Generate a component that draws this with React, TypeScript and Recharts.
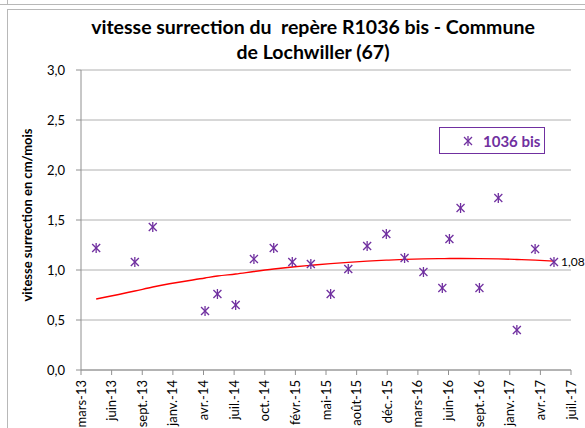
import React from 'react';
import { ComposedChart, Scatter, Line, XAxis, YAxis, CartesianGrid } from 'recharts';

// relevés (date de mesure) et vitesse de surrection en cm/mois
const dates = [
  '2013-05-04', '2013-09-06', '2013-11-03', '2014-04-21', '2014-05-31', '2014-07-29',
  '2014-09-26', '2014-11-29', '2015-01-28', '2015-03-29', '2015-06-01', '2015-07-28',
  '2015-09-27', '2015-11-28', '2016-01-26', '2016-03-27', '2016-05-27', '2016-06-19',
  '2016-07-25', '2016-09-24', '2016-11-24', '2017-01-23', '2017-03-23', '2017-05-23',
];
const values = [
  1.22, 1.08, 1.43, 0.59, 0.76, 0.65,
  1.11, 1.22, 1.08, 1.06, 0.76, 1.01,
  1.24, 1.36, 1.12, 0.98, 0.82, 1.31,
  1.62, 0.82, 1.72, 0.40, 1.21, 1.08,
];
// courbe de tendance
const trend = [
  0.71, 0.79, 0.83, 0.92, 0.94, 0.96,
  0.985, 1.01, 1.03, 1.047, 1.064, 1.077,
  1.089, 1.098, 1.106, 1.111, 1.114, 1.115,
  1.115, 1.114, 1.111, 1.105, 1.098, 1.088,
];
const tickLabels = [
  'mars-13', 'juin-13', 'sept.-13', 'janv.-14', 'avr.-14', 'juil.-14', 'oct.-14', 'févr.-15',
  'mai-15', 'août-15', 'déc.-15', 'mars-16', 'juin-16', 'sept.-16', 'janv.-17', 'avr.-17', 'juil.-17',
];
const yTicks = [0, 0.5, 1, 1.5, 2, 2.5, 3];
const axisStart = '2013-03-16';
const stepDays = 99;

const PURPLE = '#7030a0';
const FONT = 'Lato, "Open Sans", sans-serif';

const dayOf = (d: string) => Math.round((Date.parse(d) - Date.parse(axisStart)) / 86400000);
const data = dates.map((d, i) => ({ day: dayOf(d), value: values[i], trend: trend[i] }));
const xTicks = tickLabels.map((_, i) => i * stepDays);
const lastDay = data[data.length - 1].day;

const fmt = (v: number) => v.toFixed(1).replace('.', ',');

function Star({ cx, cy }: { cx: number; cy: number }) {
  return (
    <g stroke={PURPLE} strokeWidth={1.3}>
      <line x1={cx - 4} y1={cy - 4} x2={cx + 4} y2={cy + 4} />
      <line x1={cx - 4} y1={cy + 4} x2={cx + 4} y2={cy - 4} />
      <line x1={cx} y1={cy - 5} x2={cx} y2={cy + 5} />
    </g>
  );
}

function Marker(props: any) {
  const { cx, cy, payload } = props;
  return (
    <g>
      <Star cx={cx} cy={cy} />
      {payload.day === lastDay && (
        <text x={cx + 7} y={cy} dy="0.35em" fontSize={12} fontFamily={FONT} fill="#000">
          {payload.value.toFixed(2).replace('.', ',')}
        </text>
      )}
    </g>
  );
}

function XTick(props: any) {
  const { x, y, payload } = props;
  return (
    <text
      x={x}
      y={y}
      transform={`rotate(-90 ${x} ${y})`}
      textAnchor="end"
      dy="0.35em"
      fontSize={13}
      fontFamily={FONT}
      fill="#000"
    >
      {tickLabels[Math.round(payload.value / stepDays)]}
    </text>
  );
}

export default function App() {
  return (
    <div style={{ position: 'absolute', left: 0, top: 0, width: 585, height: 428, background: '#fff', overflow: 'hidden', fontFamily: FONT }}>
      <div style={{ position: 'absolute', left: 0, top: 4, width: 585, borderTop: '1.5px solid #b8b8b8' }} />
      <div style={{ position: 'absolute', left: 7, top: 0, height: 5, borderLeft: '1px solid #b8b8b8' }} />
      <div style={{ position: 'absolute', left: 7, top: 9, width: 600, height: 440, borderLeft: '1px solid #b8b8b8', borderTop: '1px solid #b8b8b8' }} />

      <div style={{ position: 'absolute', left: 40, top: 14, width: 546, textAlign: 'center', fontWeight: 700, fontSize: 19.5, lineHeight: '25px', color: '#000' }}>
        vitesse surrection du&nbsp; repère R1036 bis - Commune
        <br />
        de Lochwiller (67)
      </div>

      <div
        style={{
          position: 'absolute', left: 27, top: 215, transform: 'translate(-50%, -50%) rotate(-90deg)',
          whiteSpace: 'nowrap', fontWeight: 700, fontSize: 13, color: '#000',
        }}
      >
        vitesse surrection en cm/mois
      </div>

      <div style={{ position: 'absolute', left: 0, top: 0 }}>
        <ComposedChart width={585} height={428} data={data} margin={{ top: 70, right: 14, bottom: 8, left: 31 }}>
          <CartesianGrid vertical={false} stroke="#b0b0b0" />
          <XAxis
            type="number"
            dataKey="day"
            domain={[0, 16 * stepDays]}
            ticks={xTicks}
            interval={0}
            height={50}
            tick={<XTick />}
            tickSize={5}
            tickMargin={5}
            stroke="#909090"
          />
          <YAxis
            type="number"
            domain={[0, 3]}
            ticks={yTicks}
            interval={0}
            width={50}
            tickSize={5}
            tickMargin={11}
            tickFormatter={fmt}
            stroke="#909090"
            tick={{ fill: '#000', fontSize: 13, fontFamily: FONT }}
          />
          <Line dataKey="trend" type="monotone" stroke="#ff0000" strokeWidth={1.3} dot={false} activeDot={false} isAnimationActive={false} />
          <Scatter dataKey="value" shape={<Marker />} isAnimationActive={false} />
        </ComposedChart>
      </div>

      <div
        style={{
          position: 'absolute', left: 439, top: 127, width: 106, height: 27, border: `1.5px solid ${PURPLE}`,
          display: 'flex', alignItems: 'center', boxSizing: 'border-box',
        }}
      >
        <svg width={12} height={12} style={{ marginLeft: 22 }}>
          <Star cx={6} cy={6} />
        </svg>
        <span style={{ marginLeft: 9, color: PURPLE, fontWeight: 700, fontSize: 15 }}>1036 bis</span>
      </div>
    </div>
  );
}
